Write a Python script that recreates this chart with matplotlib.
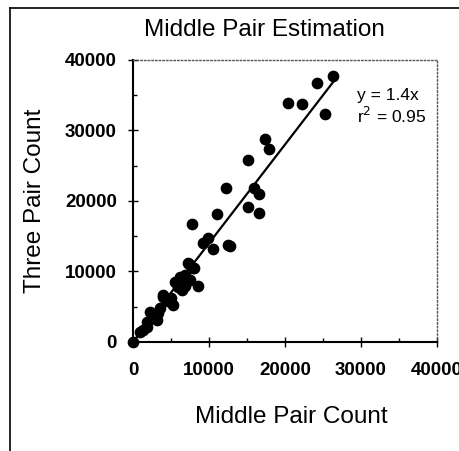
import numpy as np
import matplotlib.pyplot as plt
from matplotlib.ticker import MultipleLocator
from matplotlib.lines import Line2D

plt.rcParams['font.family'] = ['Liberation Sans', 'DejaVu Sans']

# middle pair count vs three pair count
middle = [0, 900, 1300, 1800, 1800, 2200, 3200, 3300, 3600, 4000, 4000,
          5300, 5500, 5900, 6200, 6400, 6800, 7200, 7500, 7400, 7900, 8000,
          8600, 7800, 9200, 9900, 10500, 11000, 12200, 12500, 12800, 15100,
          15100, 15900, 16600, 16600, 17400, 17900, 20400, 22200, 24200,
          25300, 26300, 2600, 4600, 5000, 6900, 2900]
three = [0, 1400, 1700, 2100, 2800, 4300, 3100, 4100, 4800, 6400, 6700,
         5200, 8500, 7800, 9200, 7400, 9500, 11200, 8800, 11000, 10500, 10500,
         7900, 16700, 14000, 14700, 13200, 18100, 21800, 13800, 13600, 25800,
         19100, 21800, 21000, 18300, 28800, 27400, 33900, 33700, 36800,
         32300, 37700, 3600, 5800, 6200, 8000, 3400]

slope = 1.4
fit_x = np.array([0, max(middle)])

fig = plt.figure(figsize=(4.6, 4.51), dpi=100)
ax = fig.add_axes([0.289, 0.2417, 0.661, 0.6253])

ax.scatter(middle, three, s=55, color='black', zorder=3, clip_on=False)
ax.plot(fit_x, slope * fit_x, color='black', lw=1.6)

ax.set_xlim(0, 40000)
ax.set_ylim(0, 40000)
ax.xaxis.set_major_locator(MultipleLocator(10000))
ax.yaxis.set_major_locator(MultipleLocator(10000))
ax.xaxis.set_minor_locator(MultipleLocator(5000))
ax.yaxis.set_minor_locator(MultipleLocator(5000))
ax.tick_params(which='major', direction='inout', length=7, width=1, labelsize=13.5)
ax.tick_params(axis='x', which='major', pad=11)
ax.tick_params(axis='y', which='major', pad=8)
ax.tick_params(which='minor', direction='in', length=3, width=1)
for lab in ax.get_xticklabels() + ax.get_yticklabels():
    lab.set_fontweight('bold')

for s in ['left', 'bottom']:
    ax.spines[s].set_linewidth(1.5)
for s in ['top', 'right']:
    ax.spines[s].set_linestyle(':')
    ax.spines[s].set_color('#555555')
    ax.spines[s].set_linewidth(1)

ax.text(29500, 34300, 'y = 1.4x', fontsize=12.5)
ax.text(29500, 31000, 'r$^2$ = 0.95', fontsize=12.5)

ax.set_title('Middle Pair Estimation', fontsize=17.5, pad=17, x=0.434)
ax.set_xlabel('Middle Pair Count', fontsize=17.5, labelpad=19, x=0.52)
ax.set_ylabel('Three Pair Count', fontsize=17.5, labelpad=14)

# frame around the chart area
fig.add_artist(Line2D([10/460, 10/460], [0, 1 - 8/451], color='black', lw=1.2))
fig.add_artist(Line2D([10/460, 1], [1 - 8/451, 1 - 8/451], color='black', lw=1.2))

fig.savefig('out.png', dpi=100)
